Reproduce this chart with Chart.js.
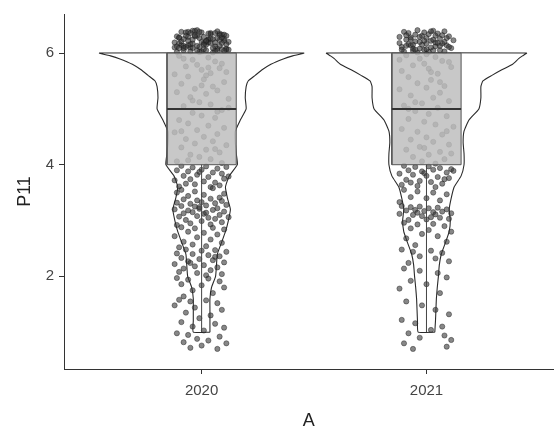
<!DOCTYPE html>
<html>
<head>
<meta charset="utf-8">
<script src="https://cdn.jsdelivr.net/npm/chart.js@4.4.0/dist/chart.umd.min.js"></script>
<style>
  html, body { margin: 0; padding: 0; background: #fff; }
  #wrap { width: 558px; height: 432px; }
</style>
</head>
<body>
<div id="wrap"><canvas id="myChart"></canvas></div>
<script>
// groups on the x axis
const categories = ['2020', '2021'];
const yTicks = [2, 4, 6];

// box plot summary per group
const q1 = [4, 4];
const median = [5, 5];
const q3 = [6, 6];
const whiskLow = [1, 1];
const whiskHigh = [6, 6];

// violin outline: half width (x units) at each P11 level
const violinLevels = [1.0, 1.2, 1.4, 1.6, 1.8, 2.0, 2.2, 2.4, 2.6, 2.8, 3.0, 3.2, 3.4, 3.6, 3.8,
                      4.0, 4.2, 4.4, 4.6, 4.8, 5.0, 5.2, 5.4, 5.5, 5.6, 5.7, 5.8, 5.9, 5.95, 6.0];
const violin2020 = [0.037, 0.037, 0.037, 0.037, 0.044, 0.062, 0.066, 0.070, 0.088, 0.106, 0.119, 0.128, 0.115, 0.106, 0.123,
                    0.159, 0.154, 0.150, 0.150, 0.172, 0.198, 0.194, 0.198, 0.207, 0.238, 0.269, 0.308, 0.366, 0.405, 0.454];
const violin2021 = [0.037, 0.040, 0.042, 0.044, 0.048, 0.053, 0.057, 0.066, 0.084, 0.101, 0.106, 0.101, 0.110, 0.123, 0.154,
                    0.167, 0.167, 0.163, 0.167, 0.189, 0.233, 0.242, 0.242, 0.251, 0.291, 0.335, 0.383, 0.410, 0.427, 0.445];

// jittered points: [x jitter in 1/100 of a category, P11]
const pts2020 = [
  [-11,6.02],[-8,6.05],[-5,6.10],[-2,6.31],[1,6.18],[4,6.36],[7,6.08],[10,6.22],[-10,6.28],[-6,6.14],
  [-3,6.40],[0,6.03],[3,6.25],[6,6.12],[9,6.33],[11,6.06],[-12,6.19],[-9,6.38],[-4,6.09],[-1,6.27],
  [2,6.15],[5,6.01],[8,6.35],[12,6.20],[-7,6.11],[-2,6.41],[3,6.24],[9,6.07],[-11,6.30],[-5,6.16],
  [0,6.37],[6,6.04],[10,6.26],[-8,6.13],[-3,6.32],[2,6.21],[7,6.39],[11,6.08],[-10,6.17],[-6,6.29],
  [-1,6.02],[4,6.34],[8,6.23],[-12,6.10],[-7,6.37],[-2,6.05],[3,6.19],[9,6.28],[-9,6.14],[-4,6.40],
  [1,6.07],[5,6.25],[10,6.33],[-11,6.12],[-5,6.03],[0,6.20],[6,6.36],[11,6.16],[-8,6.09],[-3,6.30],
  [2,6.22],[7,6.04],[-10,6.27],[-6,6.38],[-1,6.11],[4,6.18],[8,6.32],[12,6.06],[-4,6.24],[1,6.15],
  [-9,6.21],[-7,6.31],[-4,6.17],[-2,6.13],[1,6.29],[3,6.35],[5,6.09],[7,6.27],[9,6.18],[11,6.31],
  [-10,6.09],[-8,6.25],[-5,6.36],[-1,6.38],[2,6.05],[4,6.26],[6,6.19],[8,6.13],[10,6.04],[-6,6.22],
  [-10,5.95],[-4,5.88],[3,5.92],[9,5.81],[-7,5.76],[0,5.70],[6,5.85],[11,5.66],[-12,5.62],[-2,5.79],
  [4,5.64],[8,5.73],[-6,5.58],[1,5.53],[-9,5.45],[5,5.40],[10,5.48],[-3,5.36],[-11,5.30],[2,5.27],
  [7,5.33],[-5,5.21],[12,5.18],[-1,5.12],[-8,5.05],[4,5.08],[9,4.98],[-4,4.93],[0,4.88],[6,4.84],
  [-10,4.80],[-6,4.74],[3,4.70],[10,4.66],[-2,4.62],[-12,4.58],[7,4.55],[1,4.50],[-7,4.46],[5,4.42],
  [-3,4.38],[11,4.35],[-9,4.31],[2,4.27],[8,4.22],[-5,4.18],[-1,4.14],[4,4.10],[-11,4.06],[9,4.03],
  [-8,5.90],[2,5.60],[-4,5.15],[7,4.95],[-9,4.60],[6,4.28],[0,5.42],[12,5.02],[-6,4.08],[3,5.74],
  [-9,3.98],[-4,3.95],[2,3.97],[7,3.93],[11,3.96],[-11,3.90],[-6,3.88],[0,3.91],[5,3.86],[9,3.84],
  [-8,3.80],[-2,3.82],[3,3.78],[10,3.75],[-12,3.72],[-5,3.74],[1,3.70],[6,3.68],[-3,3.65],[8,3.63],
  [-10,3.61],[4,3.60],[-7,3.66],[12,3.79],[-1,3.87],
  [-9,3.55],[-3,3.52],[5,3.58],[10,3.48],[-6,3.44],[1,3.46],[8,3.41],[-11,3.50],
  [-8,3.38],[-2,3.36],[4,3.39],[9,3.35],[-11,3.32],[-5,3.30],[0,3.33],[6,3.31],[11,3.28],[-9,3.26],
  [-3,3.25],[2,3.27],[7,3.22],[-12,3.20],[-6,3.18],[-1,3.21],[5,3.19],[10,3.16],[-8,3.13],[-4,3.15],
  [1,3.12],[8,3.10],[-10,3.07],[-2,3.08],[3,3.05],[6,3.03],[12,3.06],[-7,3.01],[0,2.99],[9,2.97],
  [-5,2.95],[4,2.93],[-11,2.92],[-1,3.24],[2,3.14],
  [-9,2.88],[-3,2.86],[5,2.87],[10,2.84],[-6,2.80],[1,2.78],[7,2.75],[-12,2.72],[-2,2.70],[4,2.66],
  [-8,2.62],[9,2.60],[-4,2.57],[2,2.54],[-10,2.52],
  [-7,2.48],[0,2.46],[6,2.47],[11,2.44],[-11,2.41],[-4,2.40],[3,2.38],[8,2.36],[-9,2.33],[-1,2.31],
  [5,2.29],[-6,2.27],[10,2.25],[-12,2.22],[1,2.20],[-3,2.18],[7,2.16],[-8,2.14],[4,2.11],[-10,2.08],
  [-2,2.06],[9,2.04],[2,2.02],[-5,2.24],[6,2.35],
  [-11,1.97],[-6,1.94],[3,1.96],[8,1.91],[-9,1.86],[0,1.84],[10,1.80],[-4,1.75],[5,1.70],[-8,1.64],
  [-10,1.58],[-5,1.55],[2,1.57],[7,1.52],[-12,1.48],[-3,1.44],[9,1.40],[-7,1.35],[4,1.30],[-1,1.25],
  [-9,1.18],[6,1.15],[-4,1.10],[10,1.08],[1,1.03],[-11,0.98],[-6,0.95],[8,0.92],[-2,0.88],[3,0.85],
  [-8,0.82],[11,0.80],[0,0.76],[-5,0.72],[7,0.70]
];
const pts2021 = [
  [-10,6.03],[-6,6.08],[-2,6.15],[2,6.22],[6,6.05],[10,6.30],[-12,6.18],[-8,6.36],[-4,6.01],[0,6.27],
  [4,6.12],[8,6.39],[11,6.09],[-9,6.24],[-5,6.33],[-1,6.06],[3,6.40],[7,6.17],[-11,6.11],[-7,6.28],
  [-3,6.20],[1,6.02],[5,6.35],[9,6.14],[12,6.23],[-10,6.38],[-6,6.04],[-2,6.31],[2,6.10],[6,6.26],
  [-8,6.16],[-4,6.41],[0,6.07],[4,6.19],[8,6.03],[-12,6.29],[-9,6.13],[-5,6.21],[-1,6.37],[3,6.05],
  [7,6.32],[10,6.11],[-7,6.25],[-3,6.08],[1,6.34],[5,6.18],[-11,6.06],[9,6.27],[-6,6.15],[2,6.39],
  [-7,6.14],[-3,6.29],[0,6.17],[3,6.24],[6,6.13],[-5,6.06],[-1,6.22],[4,6.31],[8,6.20],[-9,6.32],
  [-9,5.96],[-3,5.90],[4,5.93],[10,5.84],[-6,5.78],[1,5.72],[7,5.86],[-11,5.68],[-1,5.81],[5,5.63],
  [11,5.75],[-8,5.57],[2,5.52],[-4,5.46],[8,5.41],[-12,5.35],[0,5.38],[6,5.29],[-7,5.24],[3,5.20],
  [10,5.14],[-2,5.10],[-10,5.06],[5,5.02],[-5,4.96],[1,4.91],[9,4.87],[-8,4.82],[-1,4.77],[4,4.72],
  [12,4.68],[-11,4.64],[-4,4.59],[7,4.54],[0,4.49],[-7,4.45],[3,4.41],[10,4.36],[-3,4.32],[-9,4.27],
  [6,4.23],[1,4.18],[-6,4.14],[8,4.10],[-2,4.06],[4,4.02],[-12,5.88],[6,5.48],[-5,5.12],[9,4.60],
  [-1,4.30],[2,5.66],[-8,5.00],[11,4.20],[0,5.98],
  [-10,3.98],[-5,3.96],[1,3.97],[6,3.94],[11,3.92],[-8,3.90],[-2,3.88],[3,3.91],[9,3.86],[-12,3.84],
  [-6,3.82],[0,3.80],[5,3.78],[10,3.76],[-9,3.73],[-3,3.71],[2,3.69],[7,3.66],[-11,3.64],[-4,3.62],
  [4,3.60],[8,3.74],[-7,3.68],[12,3.89],[-1,3.85],
  [-10,3.55],[-4,3.52],[3,3.50],[9,3.47],[-7,3.42],[0,3.40],[6,3.36],[-12,3.33],
  [-11,3.26],[-7,3.24],[-3,3.25],[1,3.22],[5,3.23],[9,3.20],[-9,3.18],[-5,3.19],[-1,3.17],[3,3.15],
  [7,3.16],[11,3.13],[-12,3.12],[-6,3.10],[-2,3.08],[2,3.06],[6,3.05],[10,3.03],[-8,3.01],[0,3.02],
  [4,3.11],[-4,3.14],
  [-10,2.96],[-4,2.93],[3,2.94],[8,2.90],[-7,2.86],[1,2.83],[11,2.80],[-2,2.76],[5,2.72],[-9,2.68],
  [9,2.62],[-5,2.56],
  [-11,2.48],[-6,2.44],[2,2.46],[7,2.42],[-3,2.36],[4,2.32],[10,2.27],[-8,2.24],
  [-10,2.14],[-3,2.10],[5,2.06],[9,1.98],[-7,1.92],[0,1.86],[-12,1.78],[6,1.70],
  [-9,1.55],[-2,1.48],[4,1.40],[10,1.32],[-11,1.22],[-5,1.16],[7,1.10],[2,1.04],
  [-8,0.98],[8,0.94],[-3,0.90],[11,0.86],[-10,0.80],[9,0.74],[-6,0.70]
];

const boxHalf = 0.154;
const fontFamily = "'Liberation Sans', Arial, sans-serif";

const datasets = [];
categories.forEach((cat, i) => {
  const c = i + 1;
  const w = i === 0 ? violin2020 : violin2021;
  const pts = i === 0 ? pts2020 : pts2021;

  // violin: up the right side, down the left side
  const outline = violinLevels.map((v, k) => ({x: c + w[k], y: v}));
  for (let k = violinLevels.length - 1; k >= 0; k--) {
    outline.push({x: c - w[k], y: violinLevels[k]});
  }
  outline.push(outline[0]);
  datasets.push({
    data: outline, showLine: true, fill: false, tension: 0.15,
    borderColor: '#2b2b2b', borderWidth: 1.1, pointRadius: 0, order: 3
  });

  // jittered points
  datasets.push({
    data: pts.map(p => ({x: c + p[0] / 100, y: p[1]})),
    pointRadius: 2.6,
    pointBackgroundColor: 'rgba(55,55,55,0.6)',
    pointBorderColor: 'rgba(25,25,25,0.6)',
    pointBorderWidth: 0.7,
    order: 2
  });

  // box
  datasets.push({
    data: [{x: c - boxHalf, y: q1[i]}, {x: c + boxHalf, y: q1[i]}, {x: c + boxHalf, y: q3[i]},
           {x: c - boxHalf, y: q3[i]}, {x: c - boxHalf, y: q1[i]}],
    showLine: true, fill: 'shape', backgroundColor: 'rgba(190,190,190,0.84)',
    borderColor: '#555', borderWidth: 1, pointRadius: 0, order: 1
  });

  // whiskers
  datasets.push({
    data: [{x: c, y: whiskLow[i]}, {x: c, y: q1[i]}],
    showLine: true, borderColor: '#444', borderWidth: 1, pointRadius: 0, order: 0
  });
  datasets.push({
    data: [{x: c, y: q3[i]}, {x: c, y: whiskHigh[i]}],
    showLine: true, borderColor: '#444', borderWidth: 1, pointRadius: 0, order: 0
  });

  // median
  datasets.push({
    data: [{x: c - boxHalf, y: median[i]}, {x: c + boxHalf, y: median[i]}],
    showLine: true, borderColor: '#333', borderWidth: 2, pointRadius: 0, order: 0
  });
});

const ctx = document.getElementById('myChart').getContext('2d');
const myChart = new Chart(ctx, {
  type: 'scatter',
  data: { datasets: datasets },
  options: {
    responsive: true,
    maintainAspectRatio: false,
    animation: false,
    layout: { padding: { top: 13, right: 0, left: 0, bottom: 0 } },
    plugins: {
      legend: { display: false },
      tooltip: { enabled: false }
    },
    scales: {
      x: {
        type: 'linear',
        min: 0.388,
        max: 2.564,
        afterBuildTicks: s => { s.ticks = categories.map((c, i) => ({value: i + 1})); },
        afterFit: s => { s.height = 63; },
        ticks: {
          callback: v => categories[Math.round(v) - 1],
          font: { family: fontFamily, size: 15 },
          color: '#444',
          padding: 8
        },
        grid: { drawOnChartArea: false, drawTicks: true, tickLength: 5, color: '#333' },
        border: { color: '#333', width: 1 },
        title: {
          display: true, text: 'A', color: '#222',
          font: { family: fontFamily, size: 18 },
          padding: { top: 0, bottom: 0 }
        }
      },
      y: {
        type: 'linear',
        min: 0.34,
        max: 6.70,
        afterBuildTicks: s => { s.ticks = yTicks.map(v => ({value: v})); },
        afterFit: s => { s.width = 64; },
        ticks: {
          font: { family: fontFamily, size: 15 },
          color: '#444',
          padding: 5
        },
        grid: { drawOnChartArea: false, drawTicks: true, tickLength: 5, color: '#333' },
        border: { color: '#333', width: 1 },
        title: {
          display: true, text: 'P11', color: '#222',
          font: { family: fontFamily, size: 18 },
          padding: { top: 14, bottom: 0 }
        }
      }
    }
  }
});
</script>
</body>
</html>
